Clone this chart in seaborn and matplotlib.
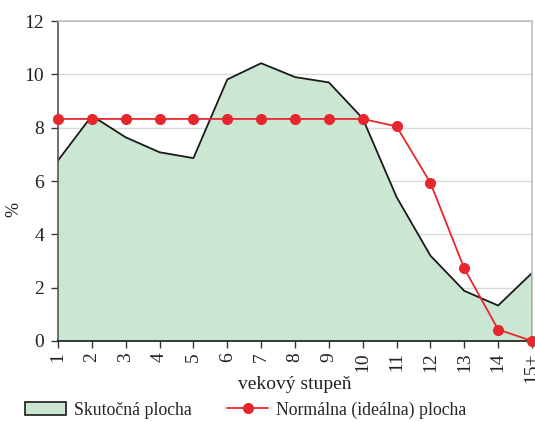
import matplotlib
matplotlib.use("Agg")
import matplotlib.pyplot as plt
import numpy as np
import pandas as pd
import seaborn as sns
from matplotlib.patches import Patch
from matplotlib.lines import Line2D

# age classes and the two area shares (%)
stupne = ["1", "2", "3", "4", "5", "6", "7", "8", "9", "10", "11", "12", "13", "14", "15+"]
skutocna = [6.77, 8.45, 7.64, 7.08, 6.86, 9.81, 10.42, 9.9, 9.7, 8.35, 5.4, 3.2, 1.88, 1.33, 2.55]
normalna = [8.33, 8.33, 8.33, 8.33, 8.33, 8.33, 8.33, 8.33, 8.33, 8.33, 8.05, 5.93, 2.72, 0.43, 0.0]

FILL = "#cce6d4"
RED = "#e8262d"

sns.set_theme(style="white")
plt.rcParams["font.family"] = ["Liberation Serif", "DejaVu Serif"]

df = pd.DataFrame({"pos": np.arange(len(stupne)), "skutocna": skutocna,
                   "normalna": normalna})

fig = plt.figure(figsize=(5.35, 4.22), dpi=100)
ax = fig.add_axes([0.1084, 0.192, 0.886, 0.758])

ax.fill_between(df["pos"], df["skutocna"], 0, color=FILL, lw=0, zorder=1)
sns.lineplot(data=df, x="pos", y="skutocna", color="#1a1a1a", lw=1.3, ax=ax, zorder=2)
ax.vlines(df["pos"].iloc[-1], 0, df["skutocna"].iloc[-1], color="#1a1a1a", lw=1.3, zorder=2)
sns.lineplot(data=df, x="pos", y="normalna", color=RED, lw=1.3, marker="o",
             markersize=8, markeredgewidth=0, ax=ax, zorder=3, clip_on=False)

ax.set_xlim(0, len(stupne) - 1)
ax.set_ylim(0, 12)
ax.set_yticks(range(0, 13, 2))
ax.set_xticks(df["pos"])
ax.set_xticklabels(stupne, rotation=90)
ax.yaxis.grid(True, color="#d9d9d9", lw=1)
ax.set_axisbelow(True)

for side in ("top", "right"):
    ax.spines[side].set_color("#c0c0c0")
ax.spines["left"].set_color("#555555")
ax.spines["bottom"].set_color("#1a1a1a")
for sp in ax.spines.values():
    sp.set_linewidth(1.2)

ax.tick_params(axis="both", direction="out", length=5, width=1, color="#333333",
               labelsize=14, labelcolor="#222222", bottom=True, left=True)
ax.tick_params(axis="y", pad=5)
ax.tick_params(axis="x", pad=3)
ax.set_xlabel("vekový stupeň", fontsize=14, color="#222222")
ax.xaxis.set_label_coords(0.5, -0.11)
ax.set_ylabel("%", fontsize=13, color="#222222")
ax.yaxis.set_label_coords(-0.075, 0.41)

handles = [Patch(facecolor=FILL, edgecolor="#1a1a1a", lw=1.2),
           Line2D([], [], color=RED, lw=1.3, marker="o", markersize=8, markeredgewidth=0)]
fig.legend(handles, ["Skutočná plocha", "Normálna (ideálna) plocha"], loc="center left",
           bbox_to_anchor=(0.03, 1 - 410 / 422), ncol=2, frameon=False, fontsize=12.8,
           borderpad=0, handlelength=2.3, handleheight=0.7, columnspacing=2.0,
           handletextpad=0.45)

fig.savefig("out.png", dpi=100)
